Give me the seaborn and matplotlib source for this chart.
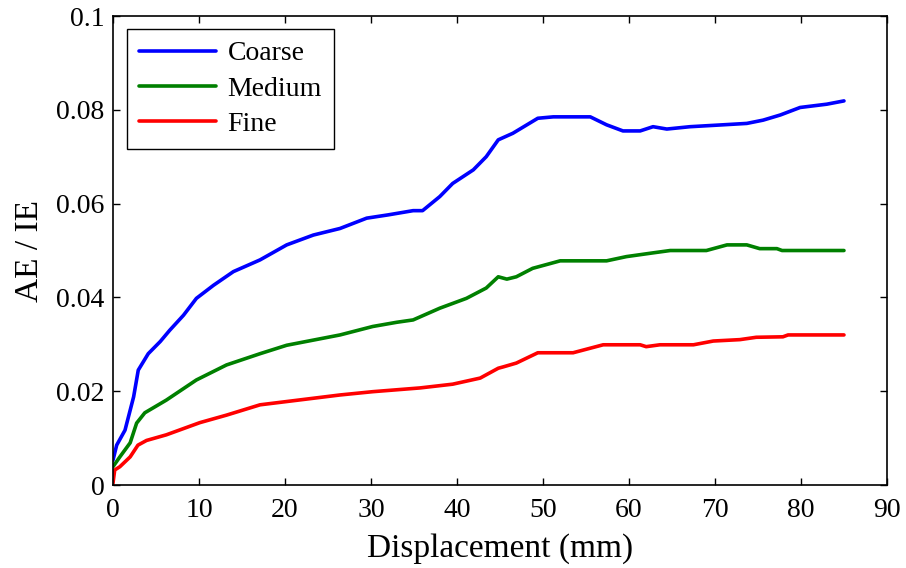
import matplotlib
matplotlib.use("Agg")
import matplotlib.pyplot as plt
import seaborn as sns
import pandas as pd

# ---- data ----
coarse_x = [0, 0.43, 1.4, 2.4, 2.94, 4.1, 5.5, 6.6, 8.2, 9.7, 11.7, 14, 17.1, 20.2, 23.3,
            26.4, 29.5, 32, 34.9, 36, 38, 39.5, 41.9, 43.4, 44.8, 46.5, 49.4, 51.2, 55.5,
            57.4, 59.3, 61.3, 62.8, 64.4, 67.1, 70.9, 73.7, 75.6, 77.6, 79.9, 83, 85]
coarse_y = [0.0053, 0.0085, 0.0117, 0.0188, 0.0245, 0.028, 0.0306, 0.033, 0.0362, 0.0398,
            0.0426, 0.0455, 0.048, 0.0512, 0.0533, 0.0547, 0.0569, 0.0576, 0.0585, 0.0585,
            0.0615, 0.0643, 0.0672, 0.0700, 0.0736, 0.075, 0.0782, 0.0785, 0.0785, 0.0768,
            0.0755, 0.0755, 0.0764, 0.0759, 0.0764, 0.0768, 0.0771, 0.0778, 0.0789, 0.0805,
            0.0812, 0.0819]

medium_x = [0, 0.8, 2, 2.75, 3.7, 6.2, 9.7, 13.2, 17.1, 20.2, 26.4, 30.2, 33, 34.9, 38,
            41.1, 43.4, 44.8, 45.8, 46.9, 48.8, 52, 57.4, 59.7, 62.8, 64.8, 69, 71.4, 73.7,
            75.2, 77.2, 77.8, 85]
medium_y = [0.0039, 0.006, 0.009, 0.0132, 0.0154, 0.0181, 0.0224, 0.0256, 0.028, 0.0298,
            0.032, 0.0338, 0.0347, 0.0352, 0.0377, 0.0398, 0.042, 0.0444, 0.0439, 0.0444,
            0.0462, 0.0478, 0.0478, 0.0487, 0.0495, 0.05, 0.05, 0.0512, 0.0512, 0.0504,
            0.0504, 0.05, 0.05]

fine_x = [0, 0.2, 0.8, 2, 2.9, 3.9, 6.2, 10.1, 13.2, 17.1, 20.2, 26.4, 30.2, 35.7, 39.5,
          42.7, 44.8, 45.4, 46.9, 49.4, 53.5, 57, 61.3, 62, 63.6, 67.5, 69.8, 72.9, 74.8,
          77.9, 78.5, 85]
fine_y = [0.0004, 0.0032, 0.0039, 0.006, 0.0085, 0.0095, 0.0107, 0.0133, 0.0149, 0.0171,
          0.0178, 0.0192, 0.0199, 0.0207, 0.0215, 0.0228, 0.0249, 0.0252, 0.026, 0.0282,
          0.0282, 0.0299, 0.0299, 0.0295, 0.0299, 0.0299, 0.0307, 0.031, 0.0315, 0.0316,
          0.032, 0.032]

series_names = ["Coarse", "Medium", "Fine"]
series_colors = ["#0000ff", "#008000", "#ff0000"]
x_ticks = [0, 10, 20, 30, 40, 50, 60, 70, 80, 90]
y_ticks = [0, 0.02, 0.04, 0.06, 0.08, 0.1]
y_tick_labels = ["0", "0.02", "0.04", "0.06", "0.08", "0.1"]

df = pd.concat([
    pd.DataFrame({"x": coarse_x, "y": coarse_y, "mesh": "Coarse"}),
    pd.DataFrame({"x": medium_x, "y": medium_y, "mesh": "Medium"}),
    pd.DataFrame({"x": fine_x, "y": fine_y, "mesh": "Fine"}),
])

sns.set_theme(style="ticks")
plt.rcParams["font.family"] = ["Liberation Serif", "DejaVu Serif"]

fig = plt.figure(figsize=(9.06, 5.68), dpi=100)
ax = fig.add_axes([0.1247, 0.1461, 0.8543, 0.8257])

sns.lineplot(data=df, x="x", y="y", hue="mesh", hue_order=series_names,
             palette=series_colors, estimator=None, sort=False, linewidth=2.6, ax=ax,
             legend=False)

ax.set_xlim(0, 90)
ax.set_ylim(0, 0.1)
ax.set_xticks(x_ticks)
ax.set_xticklabels([str(t) for t in x_ticks])
ax.set_yticks(y_ticks)
ax.set_yticklabels(y_tick_labels)
ax.tick_params(direction="in", length=5, width=1, top=True, right=True,
               labelsize=20, colors="black")
ax.tick_params(axis="x", pad=9)
ax.tick_params(axis="y", pad=6)
for s in ax.spines.values():
    s.set_visible(True)
    s.set_color("black")
    s.set_linewidth(1.2)

ax.set_xlabel("Displacement (mm)", fontsize=24, labelpad=8, color="black")
ax.set_ylabel("AE / IE", fontsize=24, labelpad=8, color="black")

handles = ax.get_lines()[:3]
leg = ax.legend(handles, series_names, loc="upper left", bbox_to_anchor=(0.018, 0.972),
                borderaxespad=0, fontsize=20, frameon=True, fancybox=False,
                handlelength=2.8, handletextpad=0.4, labelspacing=0.36,
                borderpad=0.42)
leg.get_frame().set_edgecolor("black")
leg.get_frame().set_linewidth(1.0)
leg.get_frame().set_alpha(1)
for t in leg.get_texts():
    t.set_color("black")

fig.savefig("out.png", dpi=100)
